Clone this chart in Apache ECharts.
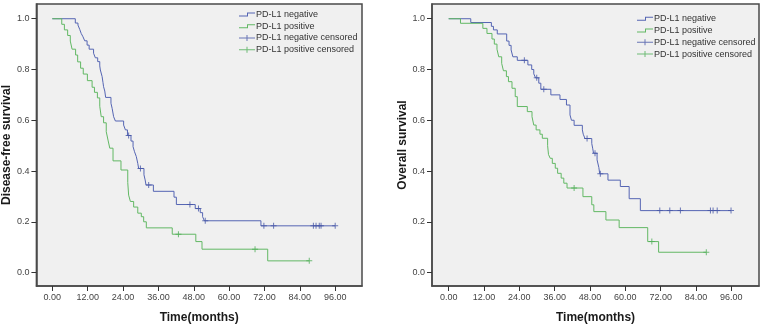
<!DOCTYPE html>
<html><head><meta charset="utf-8">
<script src="https://cdn.jsdelivr.net/npm/echarts@6/dist/echarts.min.js"></script>
<style>html,body{margin:0;padding:0;background:#fff}#c{width:762px;height:329px}</style>
</head><body><div id="c"></div>
<script>
// ---- data ----
const xTicks = [0, 12, 24, 36, 48, 60, 72, 84, 96];
const yTicks = [0, 0.2, 0.4, 0.6, 0.8, 1.0];
const seriesNames = ['PD-L1 negative', 'PD-L1 positive', 'PD-L1 negative censored', 'PD-L1 positive censored'];
const xTitle = 'Time(months)';
const yTitles = ['Disease-free survival', 'Overall survival'];

// Disease-free survival, PD-L1 negative
const dfsNegTime = [0, 7.8, 8.7, 9.3, 9.8, 10.4, 11.0, 11.8, 12.5, 14.0, 14.6, 15.4, 16.1, 16.3, 16.9, 17.2, 17.4, 17.8, 18.1, 19.9, 20.3, 20.8, 21.4, 24.2, 24.8, 25.5, 26.7, 27.4, 27.9, 28.5, 29.0, 29.3, 31.1, 31.5, 31.8, 34.3, 41.3, 42.1, 48.5, 50.2, 51.0, 51.6, 70.8];
const dfsNegSurv = [1, 0.983, 0.975, 0.958, 0.942, 0.929, 0.913, 0.896, 0.88, 0.864, 0.846, 0.831, 0.814, 0.798, 0.772, 0.748, 0.732, 0.715, 0.69, 0.667, 0.647, 0.614, 0.597, 0.581, 0.562, 0.54, 0.518, 0.496, 0.476, 0.457, 0.43, 0.41, 0.385, 0.365, 0.345, 0.32, 0.297, 0.268, 0.252, 0.236, 0.22, 0.204, 0.184];
const dfsNegCensored = [25.9, 29.9, 32.7, 46.7, 49.6, 51.9, 71.8, 75.1, 88.6, 89.5, 90.6, 91.2, 96.0];

// Disease-free survival, PD-L1 positive
const dfsPosTime = [0, 3.2, 4.1, 5.2, 6.1, 6.7, 7.9, 8.6, 9.6, 10.5, 11.9, 13.5, 14.3, 15.3, 16.1, 16.6, 17.4, 18.3, 18.9, 19.5, 20.6, 23.3, 25.6, 25.9, 26.5, 27.6, 29.0, 30.2, 31.0, 31.9, 40.7, 48.7, 50.8, 73.1];
const dfsPosSurv = [1, 0.978, 0.956, 0.934, 0.912, 0.88, 0.857, 0.83, 0.805, 0.782, 0.756, 0.73, 0.71, 0.688, 0.655, 0.614, 0.59, 0.555, 0.522, 0.49, 0.44, 0.404, 0.355, 0.305, 0.28, 0.258, 0.234, 0.22, 0.2, 0.176, 0.151, 0.122, 0.092, 0.046];
const dfsPosCensored = [42.8, 68.8, 87.2];

// Overall survival, PD-L1 negative
const osNegTime = [0, 7.5, 14.5, 15.2, 16.5, 19.7, 20.5, 21.2, 21.8, 23.3, 26.9, 28.2, 28.9, 29.5, 30.6, 31.3, 34.7, 37.8, 40.0, 41.2, 41.7, 42.6, 45.4, 45.7, 46.3, 48.6, 48.9, 49.2, 50.4, 51.0, 51.3, 54.1, 58.3, 61.3, 65.1];
const osNegSurv = [1, 0.985, 0.97, 0.956, 0.94, 0.912, 0.895, 0.877, 0.85, 0.836, 0.818, 0.8, 0.783, 0.767, 0.746, 0.722, 0.7, 0.682, 0.66, 0.621, 0.6, 0.58, 0.562, 0.545, 0.528, 0.508, 0.49, 0.47, 0.444, 0.414, 0.389, 0.364, 0.339, 0.291, 0.244];
const osNegCensored = [25.7, 29.9, 32.3, 47.0, 49.7, 51.5, 71.7, 75.1, 78.7, 88.9, 89.8, 91.2, 95.9];

// Overall survival, PD-L1 positive
const osPosTime = [0, 4.0, 11.6, 13.0, 14.7, 15.5, 16.4, 17.0, 18.0, 18.6, 19.6, 20.3, 21.5, 22.6, 23.3, 26.7, 28.3, 28.9, 29.7, 31.0, 31.8, 33.6, 33.9, 34.5, 35.2, 36.2, 37.0, 38.2, 39.1, 40.2, 45.6, 48.6, 49.3, 53.4, 57.9, 67.6, 71.3];
const osPosSurv = [1, 0.982, 0.962, 0.942, 0.92, 0.9, 0.88, 0.85, 0.824, 0.795, 0.772, 0.752, 0.726, 0.693, 0.654, 0.634, 0.614, 0.581, 0.562, 0.545, 0.529, 0.5, 0.465, 0.45, 0.43, 0.411, 0.391, 0.372, 0.352, 0.333, 0.299, 0.267, 0.24, 0.207, 0.177, 0.122, 0.08];
const osPosCensored = [42.6, 69.0, 87.5];

// ---- helpers ----
const BLUE = '#5565b3';
const GREEN = '#62b864';
const FONT = 'Arial, "Liberation Sans", sans-serif';
const PLUS = 'path://M2.5,0H3.5V2.5H6V3.5H3.5V6H2.5V3.5H0V2.5H2.5Z';
const STEP_ICON = 'path://M0,4H8V1H16V2H9V5H0Z M0,0H0.01V6H0Z';
const CENS_ICON = 'path://M0,2.5H16V3.5H0Z M7.5,0H8.5V6H7.5Z';

function survAt(times, surv, t) {
  let s = surv[0];
  for (let i = 0; i < times.length; i++) if (times[i] <= t) s = surv[i];
  return s;
}
function curvePoints(times, surv, cens) {
  const pts = times.map((t, i) => [t, surv[i]]);
  const lastT = Math.max(times[times.length - 1], ...cens);
  if (lastT > times[times.length - 1]) pts.push([lastT, surv[surv.length - 1]]);
  return pts;
}
function censPoints(times, surv, cens) {
  return cens.map(t => [t, survAt(times, surv, t)]);
}

const grids = [
  { left: 36, top: 4, width: 326, height: 282, xmin: -5.4, xmax: 105.1 },
  { left: 432, top: 4, width: 327, height: 282, xmin: -5.67, xmax: 105.4 }
];

const panels = [
  { neg: [dfsNegTime, dfsNegSurv, dfsNegCensored], pos: [dfsPosTime, dfsPosSurv, dfsPosCensored] },
  { neg: [osNegTime, osNegSurv, osNegCensored], pos: [osPosTime, osPosSurv, osPosCensored] }
];

const option = {
  animation: false,
  backgroundColor: '#ffffff',
  textStyle: { fontFamily: FONT },
  grid: grids.map(g => ({
    left: g.left, top: g.top, width: g.width, height: g.height,
    show: true, backgroundColor: '#f0f0f0', borderColor: '#4a4a4a', borderWidth: 1.5
  })),
  xAxis: grids.map((g, i) => ({
    type: 'value', gridIndex: i, min: g.xmin, max: g.xmax, position: 'bottom',
    name: xTitle, nameLocation: 'middle', nameGap: 26,
    nameTextStyle: { fontFamily: FONT, fontSize: 12, fontWeight: 'bold', color: '#1a1a1a' },
    axisLine: { show: true, onZero: false, lineStyle: { color: '#4a4a4a', width: 1.5 } },
    splitLine: { show: false },
    axisTick: { show: true, inside: false, customValues: xTicks, length: 5, lineStyle: { color: '#333', width: 1 } },
    axisLabel: { customValues: xTicks, formatter: v => v.toFixed(2), fontSize: 9, color: '#444', margin: 7, fontFamily: FONT }
  })),
  yAxis: grids.map((g, i) => ({
    type: 'value', gridIndex: i, min: -0.053, max: 1.058, position: 'left',
    name: yTitles[i], nameLocation: 'middle', nameGap: 19,
    nameTextStyle: { fontFamily: FONT, fontSize: 12, fontWeight: 'bold', color: '#1a1a1a' },
    axisLine: { show: true, onZero: false, lineStyle: { color: '#4a4a4a', width: 1.5 } },
    splitLine: { show: false },
    axisTick: { show: true, inside: false, customValues: yTicks, length: 5, lineStyle: { color: '#333', width: 1 } },
    axisLabel: { customValues: yTicks, formatter: v => v.toFixed(1), fontSize: 9, color: '#444', margin: 7, fontFamily: FONT }
  })),
  legend: [
    { left: 239, top: 8.5 },
    { left: 637, top: 12.8 }
  ].map(p => ({
    orient: 'vertical', left: p.left, top: p.top, padding: 0,
    itemWidth: 16, itemHeight: 6, itemGap: 0,
    itemStyle: { borderWidth: 0 },
    textStyle: { fontFamily: FONT, fontSize: 9, color: '#333', lineHeight: 11.8, padding: [0, 0, 0, -4] },
    selectedMode: false,
    data: [
      { name: seriesNames[0], icon: STEP_ICON },
      { name: seriesNames[1], icon: STEP_ICON },
      { name: seriesNames[2], icon: CENS_ICON },
      { name: seriesNames[3], icon: CENS_ICON }
    ]
  })),
  series: []
};

panels.forEach((p, i) => {
  option.series.push({
    name: seriesNames[0], type: 'line', step: 'end', xAxisIndex: i, yAxisIndex: i,
    data: curvePoints(...p.neg), showSymbol: false, symbol: 'none',
    lineStyle: { color: BLUE, width: 1 }, itemStyle: { color: BLUE }, z: 3
  });
  option.series.push({
    name: seriesNames[1], type: 'line', step: 'end', xAxisIndex: i, yAxisIndex: i,
    data: curvePoints(...p.pos), showSymbol: false, symbol: 'none',
    lineStyle: { color: GREEN, width: 1 }, itemStyle: { color: GREEN }, z: 3
  });
  option.series.push({
    name: seriesNames[2], type: 'scatter', xAxisIndex: i, yAxisIndex: i,
    data: censPoints(...p.neg), symbol: PLUS, symbolSize: 6,
    itemStyle: { color: '#4656a6' }, z: 4
  });
  option.series.push({
    name: seriesNames[3], type: 'scatter', xAxisIndex: i, yAxisIndex: i,
    data: censPoints(...p.pos), symbol: PLUS, symbolSize: 6,
    itemStyle: { color: '#4fae57' }, z: 4
  });
});

const chart = echarts.init(document.getElementById('c'), null, { renderer: 'canvas' });
chart.setOption(option);
</script>
</body></html>
